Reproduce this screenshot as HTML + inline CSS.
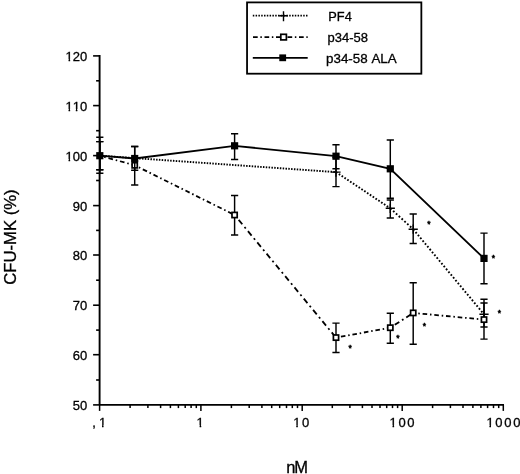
<!DOCTYPE html>
<html lang="en"><head><meta charset="utf-8"><title>CFU-MK (%) vs nM</title>
<style>html,body{margin:0;padding:0;background:#fff}body{width:520px;height:474px;overflow:hidden}</style></head>
<body>
<svg width="520" height="474" viewBox="0 0 520 474" style="display:block">
<rect width="520" height="474" fill="#fff"/>
<g stroke="#000" fill="none" stroke-width="1.5">
<path d="M99.6 55.1V404.9" stroke-width="1.9"/>
<path d="M99.6 404.9H504.0" stroke-width="1.6"/>
<path d="M93.1 404.9H99.6" stroke-width="1.6"/>
<path d="M96.1 380.0H99.6" stroke-width="1.6"/>
<path d="M93.1 354.7H99.6" stroke-width="1.6"/>
<path d="M96.1 330.1H99.6" stroke-width="1.6"/>
<path d="M93.1 305.2H99.6" stroke-width="1.6"/>
<path d="M96.1 280.2H99.6" stroke-width="1.6"/>
<path d="M93.1 255.0H99.6" stroke-width="1.6"/>
<path d="M96.1 230.4H99.6" stroke-width="1.6"/>
<path d="M93.1 205.6H99.6" stroke-width="1.6"/>
<path d="M96.1 180.5H99.6" stroke-width="1.6"/>
<path d="M93.1 155.6H99.6" stroke-width="1.6"/>
<path d="M96.1 130.7H99.6" stroke-width="1.6"/>
<path d="M93.1 105.6H99.6" stroke-width="1.6"/>
<path d="M96.1 80.8H99.6" stroke-width="1.6"/>
<path d="M93.1 55.9H99.6" stroke-width="1.6"/>
<path d="M99.6 404.9V410.9" stroke-width="1.5"/>
<path d="M130.1 404.9V408.1" stroke-width="1.5"/>
<path d="M147.9 404.9V408.1" stroke-width="1.5"/>
<path d="M160.6 404.9V408.1" stroke-width="1.5"/>
<path d="M170.4 404.9V408.1" stroke-width="1.5"/>
<path d="M178.4 404.9V408.1" stroke-width="1.5"/>
<path d="M185.2 404.9V408.1" stroke-width="1.5"/>
<path d="M191.1 404.9V408.1" stroke-width="1.5"/>
<path d="M196.3 404.9V408.1" stroke-width="1.5"/>
<path d="M200.9 404.9V410.9" stroke-width="1.5"/>
<path d="M231.4 404.9V408.1" stroke-width="1.5"/>
<path d="M249.2 404.9V408.1" stroke-width="1.5"/>
<path d="M261.9 404.9V408.1" stroke-width="1.5"/>
<path d="M271.7 404.9V408.1" stroke-width="1.5"/>
<path d="M279.7 404.9V408.1" stroke-width="1.5"/>
<path d="M286.5 404.9V408.1" stroke-width="1.5"/>
<path d="M292.3 404.9V408.1" stroke-width="1.5"/>
<path d="M297.5 404.9V408.1" stroke-width="1.5"/>
<path d="M302.2 404.9V410.9" stroke-width="1.5"/>
<path d="M332.3 404.9V408.1" stroke-width="1.5"/>
<path d="M349.9 404.9V408.1" stroke-width="1.5"/>
<path d="M362.4 404.9V408.1" stroke-width="1.5"/>
<path d="M372.0 404.9V408.1" stroke-width="1.5"/>
<path d="M380.0 404.9V408.1" stroke-width="1.5"/>
<path d="M386.7 404.9V408.1" stroke-width="1.5"/>
<path d="M392.5 404.9V408.1" stroke-width="1.5"/>
<path d="M397.6 404.9V408.1" stroke-width="1.5"/>
<path d="M402.2 404.9V410.9" stroke-width="1.5"/>
<path d="M432.6 404.9V408.1" stroke-width="1.5"/>
<path d="M450.4 404.9V408.1" stroke-width="1.5"/>
<path d="M463.0 404.9V408.1" stroke-width="1.5"/>
<path d="M472.9 404.9V408.1" stroke-width="1.5"/>
<path d="M480.9 404.9V408.1" stroke-width="1.5"/>
<path d="M487.6 404.9V408.1" stroke-width="1.5"/>
<path d="M493.5 404.9V408.1" stroke-width="1.5"/>
<path d="M498.7 404.9V408.1" stroke-width="1.5"/>
<path d="M503.3 404.9V410.9" stroke-width="1.5"/>
</g>
<path d="M99.8 155.7 L336.0 172.1" stroke="#000" fill="none" stroke-width="1.9" stroke-dasharray="1.50 1.32"/>
<path d="M336.0 172.1 L390.3 208.3" stroke="#000" fill="none" stroke-width="1.9" stroke-dasharray="1.66 1.73"/>
<path d="M390.3 208.3 L413.2 229.2" stroke="#000" fill="none" stroke-width="1.9" stroke-dasharray="1.78 2.03"/>
<path d="M413.2 229.2 L484.0 314.3" stroke="#000" fill="none" stroke-width="1.9" stroke-dasharray="1.74 1.93"/>
<path d="M99.8 141.6V169.8M96.2 141.6H103.4M96.2 169.8H103.4" stroke="#000" fill="none" stroke-width="1.45"/>
<path d="M336.0 157.5V186.6M332.4 157.5H339.6M332.4 186.6H339.6" stroke="#000" fill="none" stroke-width="1.45"/>
<path d="M390.3 199.9V217.9M386.7 199.9H393.9M386.7 217.9H393.9" stroke="#000" fill="none" stroke-width="1.45"/>
<path d="M413.2 214.0V243.4M409.6 214.0H416.8M409.6 243.4H416.8" stroke="#000" fill="none" stroke-width="1.45"/>
<path d="M484.0 302.9V327.0M480.4 302.9H487.6M480.4 327.0H487.6" stroke="#000" fill="none" stroke-width="1.45"/>
<path d="M331.4 172.1H340.6M336.0 167.5V176.7" stroke="#000" stroke-width="1.4" fill="none"/>
<path d="M385.7 208.3H394.9M390.3 203.7V212.9" stroke="#000" stroke-width="1.4" fill="none"/>
<path d="M408.6 229.2H417.8M413.2 224.6V233.8" stroke="#000" stroke-width="1.4" fill="none"/>
<path d="M479.4 314.3H488.6M484.0 309.7V318.9" stroke="#000" stroke-width="1.4" fill="none"/>
<path d="M99.8 155.7 L134.7 165.3" stroke="#000" fill="none" stroke-width="1.8" stroke-dasharray="4.67 2.85 1.56 2.85" stroke-dashoffset="2.93"/>
<path d="M134.7 165.3 L234.6 215.0" stroke="#000" fill="none" stroke-width="1.8" stroke-dasharray="4.66 2.85 1.55 2.85" stroke-dashoffset="2.85"/>
<path d="M234.6 215.0 L336.0 337.6" stroke="#000" fill="none" stroke-width="1.8" stroke-dasharray="5.71 3.49 1.91 3.49" stroke-dashoffset="8.24"/>
<path d="M336.0 337.6 L390.3 327.7" stroke="#000" fill="none" stroke-width="1.8" stroke-dasharray="4.57 2.80 1.52 2.80" stroke-dashoffset="6.69"/>
<path d="M390.3 327.7 L413.2 312.9" stroke="#000" fill="none" stroke-width="1.8" stroke-dasharray="5.35 3.27 1.78 3.27" stroke-dashoffset="8.34"/>
<path d="M413.2 312.9 L484.0 319.6" stroke="#000" fill="none" stroke-width="1.8" stroke-dasharray="4.60 2.81 1.53 2.81" stroke-dashoffset="2.31"/>
<path d="M99.8 137.3V173.3M96.2 137.3H103.4M96.2 173.3H103.4" stroke="#000" fill="none" stroke-width="1.45"/>
<path d="M134.7 146.5V184.9M131.1 146.5H138.3M131.1 184.9H138.3" stroke="#000" fill="none" stroke-width="1.45"/>
<path d="M234.6 195.4V235.0M231.0 195.4H238.2M231.0 235.0H238.2" stroke="#000" fill="none" stroke-width="1.45"/>
<path d="M336.0 323.1V352.4M332.4 323.1H339.6M332.4 352.4H339.6" stroke="#000" fill="none" stroke-width="1.45"/>
<path d="M390.3 313.2V343.2M386.7 313.2H393.9M386.7 343.2H393.9" stroke="#000" fill="none" stroke-width="1.45"/>
<path d="M413.2 282.7V344.3M409.6 282.7H416.8M409.6 344.3H416.8" stroke="#000" fill="none" stroke-width="1.45"/>
<path d="M484.0 299.2V339.1M480.4 299.2H487.6M480.4 339.1H487.6" stroke="#000" fill="none" stroke-width="1.45"/>
<rect x="132.1" y="162.7" width="5.2" height="5.2" fill="#fff" stroke="#000" stroke-width="1.7"/>
<rect x="232.0" y="212.4" width="5.2" height="5.2" fill="#fff" stroke="#000" stroke-width="1.7"/>
<rect x="333.4" y="335.0" width="5.2" height="5.2" fill="#fff" stroke="#000" stroke-width="1.7"/>
<rect x="387.7" y="325.1" width="5.2" height="5.2" fill="#fff" stroke="#000" stroke-width="1.7"/>
<rect x="410.6" y="310.3" width="5.2" height="5.2" fill="#fff" stroke="#000" stroke-width="1.7"/>
<rect x="481.4" y="317.0" width="5.2" height="5.2" fill="#fff" stroke="#000" stroke-width="1.7"/>
<path d="M99.8 155.7 L134.7 158.5 L234.6 145.8 L336.0 156.2 L390.3 168.8 L484.0 258.4" stroke="#000" fill="none" stroke-width="1.8"/>
<rect x="96.2" y="152.1" width="7.2" height="7.2" fill="#000"/>
<rect x="131.1" y="154.9" width="7.2" height="7.2" fill="#000"/>
<rect x="231.0" y="142.2" width="7.2" height="7.2" fill="#000"/>
<rect x="332.4" y="152.6" width="7.2" height="7.2" fill="#000"/>
<rect x="386.7" y="165.2" width="7.2" height="7.2" fill="#000"/>
<rect x="480.4" y="254.8" width="7.2" height="7.2" fill="#000"/>
<path d="M99.8 141.6V169.8M96.2 141.6H103.4M96.2 169.8H103.4" stroke="#000" fill="none" stroke-width="1.45"/>
<path d="M134.7 146.5V170.2M131.1 146.5H138.3M131.1 170.2H138.3" stroke="#000" fill="none" stroke-width="1.45"/>
<path d="M234.6 133.7V159.4M231.0 133.7H238.2M231.0 159.4H238.2" stroke="#000" fill="none" stroke-width="1.45"/>
<path d="M336.0 144.7V168.8M332.4 144.7H339.6M332.4 168.8H339.6" stroke="#000" fill="none" stroke-width="1.45"/>
<path d="M390.3 140.0V198.3M386.7 140.0H393.9M386.7 198.3H393.9" stroke="#000" fill="none" stroke-width="1.45"/>
<path d="M484.0 233.1V283.7M480.4 233.1H487.6M480.4 283.7H487.6" stroke="#000" fill="none" stroke-width="1.45"/>
<text x="429" y="227.29999999999998" text-anchor="middle" style="font-family:'Liberation Sans',Arial,Helvetica,sans-serif;fill:#000;stroke:#000;stroke-width:0.3px;font-size:8.5px;stroke-width:0.5px">*</text>
<text x="350.1" y="351.0" text-anchor="middle" style="font-family:'Liberation Sans',Arial,Helvetica,sans-serif;fill:#000;stroke:#000;stroke-width:0.3px;font-size:8.5px;stroke-width:0.5px">*</text>
<text x="398" y="341.0" text-anchor="middle" style="font-family:'Liberation Sans',Arial,Helvetica,sans-serif;fill:#000;stroke:#000;stroke-width:0.3px;font-size:8.5px;stroke-width:0.5px">*</text>
<text x="424.3" y="328.5" text-anchor="middle" style="font-family:'Liberation Sans',Arial,Helvetica,sans-serif;fill:#000;stroke:#000;stroke-width:0.3px;font-size:8.5px;stroke-width:0.5px">*</text>
<text x="493.3" y="261.1" text-anchor="middle" style="font-family:'Liberation Sans',Arial,Helvetica,sans-serif;fill:#000;stroke:#000;stroke-width:0.3px;font-size:8.5px;stroke-width:0.5px">*</text>
<text x="499.5" y="316.40000000000003" text-anchor="middle" style="font-family:'Liberation Sans',Arial,Helvetica,sans-serif;fill:#000;stroke:#000;stroke-width:0.3px;font-size:8.5px;stroke-width:0.5px">*</text>
<rect x="247.05" y="2.4" width="174.3" height="71.3" fill="#fff" stroke="#000" stroke-width="1.8"/>
<path d="M252.8 15.7H307.7" stroke="#000" stroke-width="1.8" stroke-dasharray="1.5 1.3"/>
<path d="M253 37.1H307.7" stroke="#000" stroke-width="1.8" stroke-dasharray="4.7 2.65 1.5 2.65"/>
<path d="M252.8 57.8H307.7" stroke="#000" stroke-width="1.8"/>
<path d="M279.2 15.7H287.8M283.5 11.2V21.2" stroke="#000" stroke-width="1.4" fill="none"/>
<rect x="280.8" y="34.3" width="5.6" height="5.6" fill="#fff" stroke="#000" stroke-width="1.7"/>
<rect x="279.3" y="54.4" width="6.8" height="6.8" fill="#000"/>
<text x="328.3" y="21.3" style="font-family:'Liberation Sans',Arial,Helvetica,sans-serif;fill:#000;stroke:#000;stroke-width:0.3px;font-size:12.8px">PF4</text>
<text x="327.5" y="42" style="font-family:'Liberation Sans',Arial,Helvetica,sans-serif;fill:#000;stroke:#000;stroke-width:0.3px;font-size:13px">p34-58</text>
<text x="326" y="63.4" style="font-family:'Liberation Sans',Arial,Helvetica,sans-serif;fill:#000;stroke:#000;stroke-width:0.3px;font-size:13.4px;word-spacing:0.7px">p34-58 ALA</text>
<defs><clipPath id="one" clipPathUnits="objectBoundingBox"><path d="M0 0H1V0.7H0.635V1H0.428V0.7H0Z"/></clipPath></defs>
<text x="72.74" y="409.8" style="font-family:'Liberation Sans',Arial,Helvetica,sans-serif;fill:#000;stroke:#000;stroke-width:0.3px;font-size:13px">50</text>
<text x="72.74" y="359.6" style="font-family:'Liberation Sans',Arial,Helvetica,sans-serif;fill:#000;stroke:#000;stroke-width:0.3px;font-size:13px">60</text>
<text x="72.74" y="310.1" style="font-family:'Liberation Sans',Arial,Helvetica,sans-serif;fill:#000;stroke:#000;stroke-width:0.3px;font-size:13px">70</text>
<text x="72.74" y="259.9" style="font-family:'Liberation Sans',Arial,Helvetica,sans-serif;fill:#000;stroke:#000;stroke-width:0.3px;font-size:13px">80</text>
<text x="72.74" y="210.5" style="font-family:'Liberation Sans',Arial,Helvetica,sans-serif;fill:#000;stroke:#000;stroke-width:0.3px;font-size:13px">90</text>
<text x="65.52" y="160.5" clip-path="url(#one)" style="font-family:'Liberation Sans',Arial,Helvetica,sans-serif;fill:#000;stroke:#000;stroke-width:0.3px;font-size:13px">1</text>
<text x="72.74" y="160.5" style="font-family:'Liberation Sans',Arial,Helvetica,sans-serif;fill:#000;stroke:#000;stroke-width:0.3px;font-size:13px">00</text>
<text x="65.52" y="110.5" clip-path="url(#one)" style="font-family:'Liberation Sans',Arial,Helvetica,sans-serif;fill:#000;stroke:#000;stroke-width:0.3px;font-size:13px">1</text>
<text x="72.74" y="110.5" clip-path="url(#one)" style="font-family:'Liberation Sans',Arial,Helvetica,sans-serif;fill:#000;stroke:#000;stroke-width:0.3px;font-size:13px">1</text>
<text x="79.97" y="110.5" style="font-family:'Liberation Sans',Arial,Helvetica,sans-serif;fill:#000;stroke:#000;stroke-width:0.3px;font-size:13px">0</text>
<text x="65.52" y="60.8" clip-path="url(#one)" style="font-family:'Liberation Sans',Arial,Helvetica,sans-serif;fill:#000;stroke:#000;stroke-width:0.3px;font-size:13px">1</text>
<text x="72.74" y="60.8" style="font-family:'Liberation Sans',Arial,Helvetica,sans-serif;fill:#000;stroke:#000;stroke-width:0.3px;font-size:13px">20</text>
<text x="92.2" y="426.7" style="font-family:'Liberation Sans',Arial,Helvetica,sans-serif;fill:#000;stroke:#000;stroke-width:0.3px;font-size:13px">,</text>
<text x="98.90" y="426.7" clip-path="url(#one)" style="font-family:'Liberation Sans',Arial,Helvetica,sans-serif;fill:#000;stroke:#000;stroke-width:0.3px;font-size:13px">1</text>
<text x="196.60" y="426.7" clip-path="url(#one)" style="font-family:'Liberation Sans',Arial,Helvetica,sans-serif;fill:#000;stroke:#000;stroke-width:0.3px;font-size:13px">1</text>
<text x="293.20" y="426.7" clip-path="url(#one)" style="font-family:'Liberation Sans',Arial,Helvetica,sans-serif;fill:#000;stroke:#000;stroke-width:0.3px;font-size:13px">1</text>
<text x="301.93" y="426.7" style="font-family:'Liberation Sans',Arial,Helvetica,sans-serif;fill:#000;stroke:#000;stroke-width:0.3px;font-size:13px">0</text>
<text x="389.50" y="426.7" clip-path="url(#one)" style="font-family:'Liberation Sans',Arial,Helvetica,sans-serif;fill:#000;stroke:#000;stroke-width:0.3px;font-size:13px">1</text>
<text x="398.43" y="426.7" style="font-family:'Liberation Sans',Arial,Helvetica,sans-serif;fill:#000;stroke:#000;stroke-width:0.3px;font-size:13px;letter-spacing:1.7px">00</text>
<text x="486.40" y="426.7" clip-path="url(#one)" style="font-family:'Liberation Sans',Arial,Helvetica,sans-serif;fill:#000;stroke:#000;stroke-width:0.3px;font-size:13px">1</text>
<text x="495.33" y="426.7" style="font-family:'Liberation Sans',Arial,Helvetica,sans-serif;fill:#000;stroke:#000;stroke-width:0.3px;font-size:13px;letter-spacing:1.7px">000</text>
<text transform="translate(15.8 284.8) rotate(-90)" style="font-family:'Liberation Sans',Arial,Helvetica,sans-serif;fill:#000;stroke:#000;stroke-width:0.3px;font-size:16.7px">CFU-MK (%)</text>
<text x="286.2" y="472.8" style="font-family:'Liberation Sans',Arial,Helvetica,sans-serif;fill:#000;stroke:#000;stroke-width:0.3px;font-size:16.5px;letter-spacing:-1px">nM</text>
</svg>
</body></html>
